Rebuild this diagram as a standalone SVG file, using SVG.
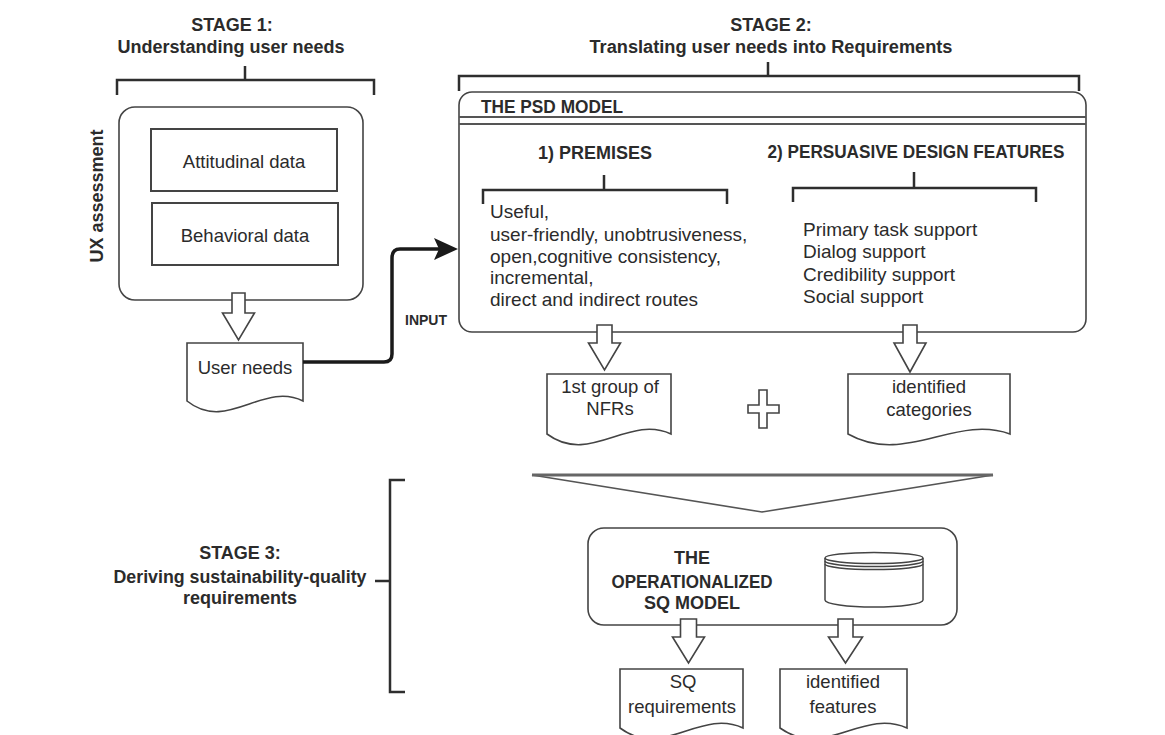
<svg xmlns="http://www.w3.org/2000/svg" width="1165" height="735" viewBox="0 0 1165 735">
<defs>
<style>
text{font-family:"Liberation Sans",Arial,sans-serif;fill:#2b2b2b}
.t{font-size:18px;font-weight:bold;text-anchor:middle}
.b{font-weight:bold}
.r{font-size:18.5px}
.l{font-size:19px}
.m{text-anchor:middle}
.br{fill:none;stroke:#2e2e2e;stroke-width:2.5}
.box{fill:#fff;stroke:#444;stroke-width:1.6}
.doc{fill:#fff;stroke:#444;stroke-width:1.6}
.ha{fill:#fff;stroke:#444;stroke-width:1.6;stroke-linejoin:miter}
</style>
</defs>
<rect width="1165" height="735" fill="#fff"/>

<g id="stage1-title">
<text class="t" x="232" y="31">STAGE 1:</text>
<text class="t" x="231" y="53">Understanding user needs</text>
<path class="br" d="M117,95 V80 H374 V95 M245,66 V80"/>
</g>

<g id="stage2-title">
<text class="t" x="771" y="31">STAGE 2:</text>
<text class="t" x="771" y="53" textLength="363" lengthAdjust="spacingAndGlyphs">Translating user needs into Requirements</text>
<path class="br" d="M459,91 V76 H1079 V91 M768,62 V76"/>
</g>

<g id="stage3-title">
<text class="t" x="240" y="559">STAGE 3:</text>
<text class="t" x="240" y="583" textLength="253" lengthAdjust="spacingAndGlyphs">Deriving sustainability-quality</text>
<text class="t" x="240" y="604">requirements</text>
<path class="br" d="M405,480 H390 V692 H405 M375,581 H390"/>
</g>

<g id="ux-assessment">
<rect class="box" x="119" y="107" width="244" height="193" rx="16"/>
<text class="t" transform="translate(103,196) rotate(-90)">UX assessment</text>
</g>
<g id="attitudinal">
<rect x="151" y="129" width="186" height="62" fill="#fff" stroke="#444" stroke-width="2"/>
<text class="r m" x="244" y="168">Attitudinal data</text>
</g>
<g id="behavioral">
<rect x="152" y="203" width="186" height="62" fill="#fff" stroke="#444" stroke-width="2"/>
<text class="r m" x="245" y="242">Behavioral data</text>
</g>

<g id="psd-model">
<rect class="box" x="459" y="92" width="627" height="240" rx="13" stroke-width="1.8"/>
<line x1="459" y1="117" x2="1086" y2="117" stroke="#555" stroke-width="2"/>
<line x1="459" y1="124" x2="1086" y2="124" stroke="#555" stroke-width="2"/>
<text class="b" x="481" y="113" font-size="18" textLength="142" lengthAdjust="spacingAndGlyphs">THE PSD MODEL</text>
</g>

<g id="premises">
<text class="t" x="595" y="159">1) PREMISES</text>
<path class="br" d="M483,204 V190 H727 V204 M604,175 V190"/>
<text class="l" x="490" y="218">Useful,</text>
<text class="l" x="490" y="241">user-friendly, unobtrusiveness,</text>
<text class="l" x="490" y="263">open,cognitive consistency,</text>
<text class="l" x="490" y="284">incremental,</text>
<text class="l" x="490" y="306">direct and indirect routes</text>
</g>

<g id="persuasive">
<text class="t" x="916" y="158" textLength="297" lengthAdjust="spacingAndGlyphs">2) PERSUASIVE DESIGN FEATURES</text>
<path class="br" d="M793,202 V188 H1036 V202 M914,172 V188"/>
<text class="l" x="803" y="236">Primary task support</text>
<text class="l" x="803" y="258">Dialog support</text>
<text class="l" x="803" y="281">Credibility support</text>
<text class="l" x="803" y="303">Social support</text>
</g>

<g id="user-needs">
<path class="doc" d="M187,343 H303 V401 C263,381 227,433 187,401 Z"/>
<text class="r m" x="245" y="374">User needs</text>
</g>

<g id="nfr-group">
<path class="doc" d="M547,374 H671 V434 C628,414 590,466 547,434 Z"/>
<text class="r m" x="610" y="393">1st group of</text>
<text class="r m" x="610" y="415">NFRs</text>
</g>

<g id="plus">
<path d="M759,390 H767 V405 H779 V413 H767 V428 H759 V413 H748 V405 H759 Z" fill="#fff" stroke="#444" stroke-width="1.6"/>
</g>

<g id="identified-categories">
<path class="doc" d="M848,374 H1010 V434 C955,414 905,466 848,434 Z"/>
<text class="r m" x="929" y="393">identified</text>
<text class="r m" x="929" y="416">categories</text>
</g>

<g id="funnel">
<path d="M532,475 H993 L762,512 Z" fill="#fff" stroke="#555" stroke-width="1.6" stroke-linejoin="miter"/>
<line x1="532" y1="475" x2="993" y2="475" stroke="#666" stroke-width="3"/>
</g>

<g id="sq-model">
<rect class="box" x="588" y="528" width="369" height="97" rx="16"/>
<text class="t" x="692" y="564">THE</text>
<text class="t" x="692" y="588" textLength="161" lengthAdjust="spacingAndGlyphs">OPERATIONALIZED</text>
<text class="t" x="692" y="609">SQ MODEL</text>
<g fill="#fff" stroke="#444" stroke-width="1.5">
<path d="M825,558 V600 A49,7 0 0 0 923,600 V558"/>
<ellipse cx="874" cy="558" rx="49" ry="5.5"/>
<path d="M825,561 A49,5.5 0 0 0 923,561" fill="none"/>
<path d="M825,564 A49,5.5 0 0 0 923,564" fill="none"/>
</g>
</g>

<g id="sq-requirements">
<path class="doc" d="M620,669 H743 V728 C700,708 663,760 620,728 Z"/>
<text class="r m" x="683" y="688">SQ</text>
<text class="r m" x="682" y="713">requirements</text>
</g>

<g id="identified-features">
<path class="doc" d="M780,669 H907 V728 C862,708 825,760 780,728 Z"/>
<text class="r m" x="843" y="688">identified</text>
<text class="r m" x="843" y="713">features</text>
</g>

<g id="connectors">
<path class="ha" d="M232,293 H245 V313 H254.5 L238.5,340 L222.5,313 H232 Z"/>
<path class="ha" d="M597,325 H612 V343 H620.5 L604.5,370 L588.5,343 H597 Z"/>
<path class="ha" d="M903,325 H917 V343 H926 L910,372 L894,343 H903 Z"/>
<path class="ha" d="M680.5,619 H696.5 V637 H704.5 L688.5,663 L672.5,637 H680.5 Z"/>
<path class="ha" d="M838,619 H853 V637 H862.5 L845.5,663 L828.5,637 H838 Z"/>
<path d="M303,362 H384 Q392,362 392,354 V258 Q392,249 400,249 H440" fill="none" stroke="#1a1a1a" stroke-width="3.5"/>
<path d="M434,238 L458,249 L434,260 L439,249 Z" fill="#1a1a1a"/>
<text class="b" x="426" y="325" font-size="14" text-anchor="middle">INPUT</text>
</g>
</svg>
